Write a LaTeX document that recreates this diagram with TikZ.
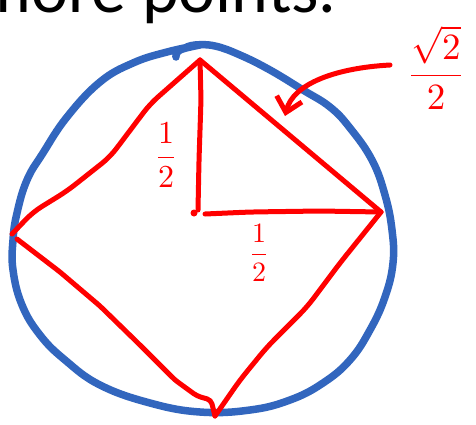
\documentclass[tikz,border=0pt]{standalone}
\usepackage{amsmath}
\usepackage{fontspec}
\setmainfont{Carlito}
\usetikzlibrary{arrows.meta}
\definecolor{penblue}{RGB}{50,102,190}
\definecolor{penred}{RGB}{255,0,0}
\tikzset{
  bluepen/.style={draw=penblue, line width=7.5pt, line cap=round, line join=round},
  redpen/.style={draw=penred, line width=5pt, line cap=round, line join=round, rounded corners=10pt},
  redlabel/.style={text=penred, inner sep=0pt}
}
\begin{document}
\begin{tikzpicture}[x=1pt,y=-1pt]
\clip (0,0) rectangle (476,424);
\fill[white] (0,0) rectangle (476,424);
% title text (cut off at the top)
\node[anchor=base west, inner sep=0pt, font=\fontsize{70}{78}\selectfont] (title) at (-25,12.5) {more points.};
% blue circle
\draw[bluepen] plot[smooth, tension=0.7] coordinates {
 (176,57) (180,50) (200,45) (167,52) (133,63) (100,82) (67,117) (43,153) (27,180) (17,213) (13,240)
 (13,270) (22,305) (40,335) (65,360) (100,385) (150,403) (200,412) (250,410) (290,400)
 (323,383) (350,360) (370,330) (385,297) (393,263) (392,230) (385,195) (372,160) (350,128)
 (330,107) (303,90) (270,70) (240,55) (215,46) (195,45) (185,48)};
% diamond
\coordinate (T) at (200,60);
\coordinate (R) at (381,212);
\coordinate (B) at (215,416);
\coordinate (L) at (12,234);
\coordinate (O) at (194,213);
\draw[redpen] (L) -- (33,212) -- (67,191) -- (110,157) -- (150,104) -- (T);
\draw[redpen] (T) -- (R);
\draw[redpen] (R) -- (340,263) -- (307,307) -- (267,347) -- (240,380) -- (B);
\draw[redpen, rounded corners=4pt] (17,239) -- (60,272) -- (100,306) -- (140,345) -- (175,380) -- (197,396) -- (211,400) -- (B);
% radii
\draw[redpen] (T) -- (201,100) -- (199,160) -- (198,210);
\fill[penred] (O) circle (3.5pt);
\draw[redpen] (205,214) -- (250,212) -- (320,211) -- (R);
% labels
\node[redlabel] (h1) at (166,155) {\scalebox{3.2}{$\dfrac{1}{2}$}};
\node[redlabel] (h2) at (259,253) {\scalebox{2.8}{$\dfrac{1}{2}$}};
\node[redlabel] (s) at (436,68) {\scalebox{3.7}{$\dfrac{\sqrt{2}}{2}$}};
% arrow
\coordinate (A0) at (390,65);
\coordinate (A1) at (285,116);
\draw[redpen, -{Straight Barb[length=14pt,width=26pt,line width=5pt]}] (A0) .. controls (335,68) and (293,84) .. (A1);
\end{tikzpicture}
\end{document}
